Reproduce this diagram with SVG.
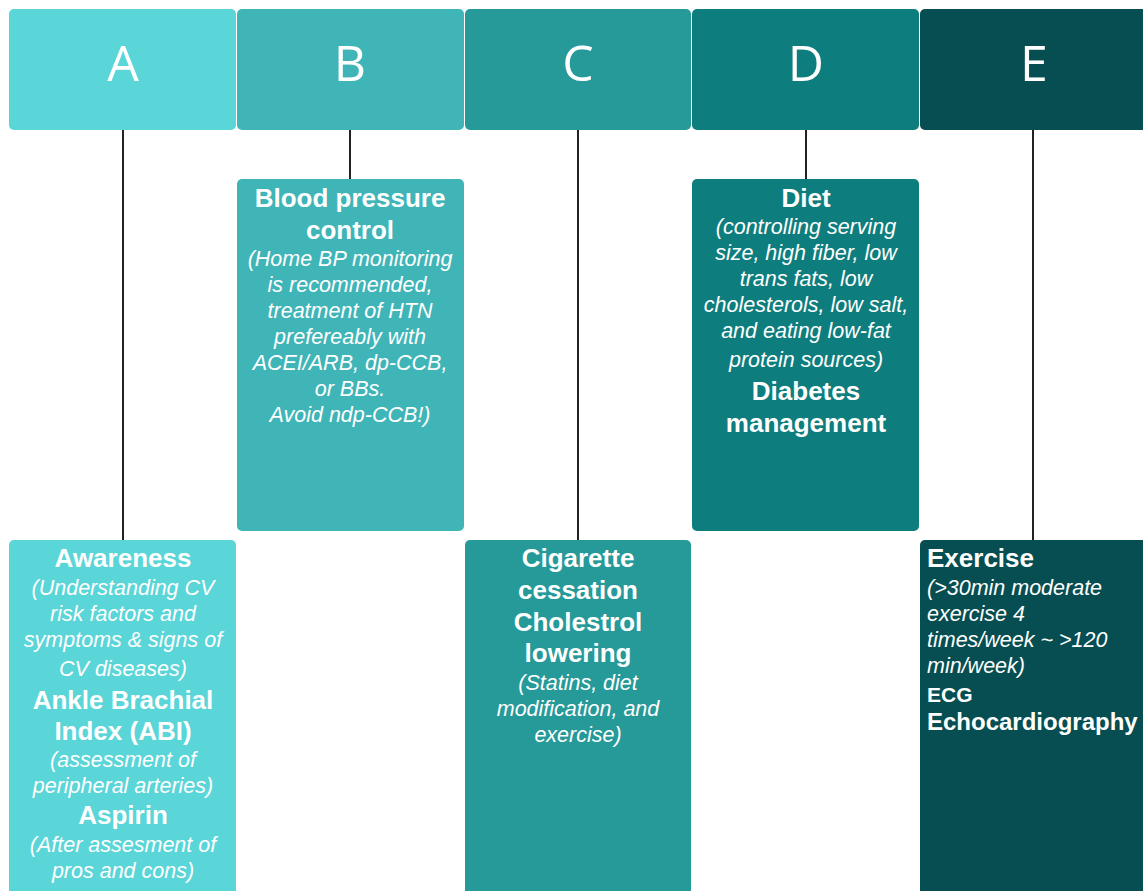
<svg xmlns="http://www.w3.org/2000/svg" width="1143" height="891" viewBox="0 0 1143 891">
<style>
.hd{font-family:"Open Sans","Liberation Sans",sans-serif;font-weight:400;font-size:50px;fill:#fff;text-anchor:middle}
.b{font-family:"Liberation Sans",Arial,sans-serif;font-weight:bold;font-size:26px;fill:#fff;text-anchor:middle}
.i{font-family:"Liberation Sans",Arial,sans-serif;font-style:italic;font-size:21.5px;fill:#fff;text-anchor:middle}
.l{text-anchor:start}
.cA{fill:#5AD5D8}.cB{fill:#3FB5B7}.cC{fill:#269999}.cD{fill:#0E7D7D}.cE{fill:#064E51}
.ln{stroke:#222;stroke-width:2;fill:none}
</style>
<rect width="1143" height="891" fill="#fff"/>
<g id="connectors">
<line class="ln" x1="123" y1="130" x2="123" y2="540"/>
<line class="ln" x1="350" y1="130" x2="350" y2="179"/>
<line class="ln" x1="578" y1="130" x2="578" y2="540"/>
<line class="ln" x1="806" y1="130" x2="806" y2="179"/>
<line class="ln" x1="1033" y1="130" x2="1033" y2="540"/>
</g>
<g id="head-A"><rect class="cA" x="9" y="9" width="227" height="121" rx="5"/><text class="hd" x="123" y="81">A</text></g>
<g id="head-B"><rect class="cB" x="237" y="9" width="227" height="121" rx="5"/><text class="hd" x="350" y="81">B</text></g>
<g id="head-C"><rect class="cC" x="465" y="9" width="226" height="121" rx="5"/><text class="hd" x="578" y="81">C</text></g>
<g id="head-D"><rect class="cD" x="692" y="9" width="227" height="121" rx="5"/><text class="hd" x="806" y="81">D</text></g>
<g id="head-E"><rect class="cE" x="920" y="9" width="230" height="121" rx="5"/><text class="hd" x="1034" y="81">E</text></g>

<g id="box-B"><rect class="cB" x="237" y="179" width="227" height="352" rx="5"/>
<text class="b" x="350" y="207">Blood pressure</text>
<text class="b" x="350" y="239">control</text>
<text class="i" x="350" y="266">(Home BP monitoring</text>
<text class="i" x="350" y="292">is recommended,</text>
<text class="i" x="350" y="318">treatment of HTN</text>
<text class="i" x="350" y="344">prefereably with</text>
<text class="i" x="350" y="370">ACEI/ARB, dp-CCB,</text>
<text class="i" x="350" y="396">or BBs.</text>
<text class="i" x="350" y="422">Avoid ndp-CCB!)</text>
</g>

<g id="box-D"><rect class="cD" x="692" y="179" width="227" height="352" rx="5"/>
<text class="b" x="806" y="207">Diet</text>
<text class="i" x="806" y="234">(controlling serving</text>
<text class="i" x="806" y="260">size, high fiber, low</text>
<text class="i" x="806" y="286">trans fats, low</text>
<text class="i" x="806" y="312">cholesterols, low salt,</text>
<text class="i" x="806" y="338">and eating low-fat</text>
<text class="i" x="806" y="367">protein sources)</text>
<text class="b" x="806" y="400">Diabetes</text>
<text class="b" x="806" y="432">management</text>
</g>

<g id="box-A"><rect class="cA" x="9" y="540" width="227" height="360" rx="5"/>
<text class="b" x="123" y="567">Awareness</text>
<text class="i" x="123" y="595">(Understanding CV</text>
<text class="i" x="123" y="621">risk factors and</text>
<text class="i" x="123" y="647">symptoms &amp; signs of</text>
<text class="i" x="123" y="676">CV diseases)</text>
<text class="b" x="123" y="709">Ankle Brachial</text>
<text class="b" x="123" y="740">Index (ABI)</text>
<text class="i" x="123" y="767">(assessment of</text>
<text class="i" x="123" y="793">peripheral arteries)</text>
<text class="b" x="123" y="824">Aspirin</text>
<text class="i" x="123" y="852">(After assesment of</text>
<text class="i" x="123" y="878">pros and cons)</text>
</g>

<g id="box-C"><rect class="cC" x="465" y="540" width="226" height="360" rx="5"/>
<text class="b" x="578" y="567">Cigarette</text>
<text class="b" x="578" y="599">cessation</text>
<text class="b" x="578" y="631">Cholestrol</text>
<text class="b" x="578" y="662">lowering</text>
<text class="i" x="578" y="690">(Statins, diet</text>
<text class="i" x="578" y="716">modification, and</text>
<text class="i" x="578" y="742">exercise)</text>
</g>

<g id="box-E"><rect class="cE" x="920" y="540" width="230" height="360" rx="5"/>
<text class="b l" x="927" y="567">Exercise</text>
<text class="i l" x="927" y="595">(&gt;30min moderate</text>
<text class="i l" x="927" y="621">exercise 4</text>
<text class="i l" x="927" y="647">times/week ~ &gt;120</text>
<text class="i l" x="927" y="673">min/week)</text>
<text class="b l" x="927" y="702" style="font-size:21px">ECG</text>
<text class="b l" x="927" y="730" style="font-size:24px">Echocardiography</text>
</g>
</svg>
